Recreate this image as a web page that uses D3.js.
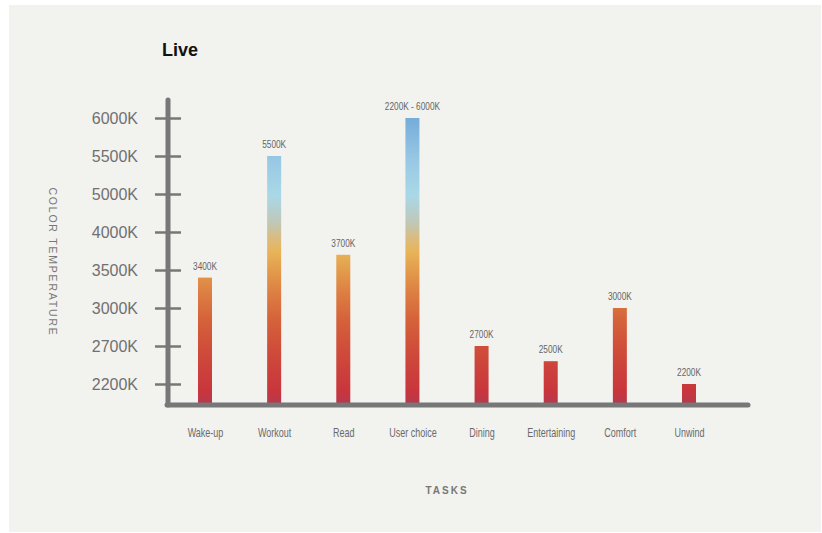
<!DOCTYPE html>
<html><head><meta charset="utf-8">
<script src="https://cdn.jsdelivr.net/npm/d3@7"></script>
<style>
html,body{margin:0;padding:0;background:#fff;}
svg{display:block;}
</style></head>
<body>
<svg id="c" width="822" height="533"></svg>
<script>
const categories = ["Wake-up","Workout","Read","User choice","Dining","Entertaining","Comfort","Unwind"];
const values = [3400,5500,3700,6000,2700,2500,3000,2200];
const valueLabels = ["3400K","5500K","3700K","2200K - 6000K","2700K","2500K","3000K","2200K"];
const tickValues = [2200,2700,3000,3500,4000,5000,5500,6000];
const tickLabels = ["2200K","2700K","3000K","3500K","4000K","5000K","5500K","6000K"];

const svg = d3.select("#c");
svg.append("rect").attr("x",9).attr("y",5).attr("width",812).attr("height",527).attr("fill","#f2f2ef");

const yTop = 118, yStep = 38.0;
const y = d3.scaleLinear()
  .domain(tickValues)
  .range(tickValues.map((d,i)=> yTop + (tickValues.length-1-i)*yStep));
const x = d3.scalePoint().domain(categories).range([205,689]);
const baseY = 403;
const barW = 14;
const gray = "#777777";
const sans = "'Liberation Sans',Arial,sans-serif";

// gradient in user space
const defs = svg.append("defs");
const g0 = y(6000), g1 = baseY;
const grad = defs.append("linearGradient").attr("id","tg").attr("gradientUnits","userSpaceOnUse")
  .attr("x1",0).attr("y1",g1).attr("x2",0).attr("y2",g0);
const stops = [[403,"#b8384c"],[390,"#c9363c"],[350,"#cf4c3a"],[320,"#d5623a"],[295,"#dc7c42"],[270,"#e39c4c"],[252,"#e8b458"],[238,"#d9bc80"],[222,"#bfc8b8"],[195,"#aad8e8"],[160,"#98c8e4"],[117,"#76acda"]];
stops.forEach(([py,c])=>grad.append("stop").attr("offset",(g1-py)/(g1-g0)).attr("stop-color",c));

// bars
svg.append("g").selectAll("rect").data(values).join("rect")
  .attr("x",(d,i)=>x(categories[i])-barW/2)
  .attr("y",d=>y(d))
  .attr("width",barW)
  .attr("height",d=>baseY-y(d))
  .attr("fill","url(#tg)");

// value labels (condensed look)
svg.append("g").selectAll("text").data(values).join("text")
  .attr("transform",(d,i)=>`translate(${x(categories[i])},${y(d)-8}) scale(0.72,1)`)
  .attr("text-anchor","middle")
  .attr("font-family",sans).attr("font-size",11.5).attr("fill","#666")
  .text((d,i)=>valueLabels[i]);

// y axis
const yAxis = d3.axisLeft(y).tickValues(tickValues).tickFormat((d,i)=>tickLabels[i]).tickSize(0).tickPadding(0);
const ya = svg.append("g").attr("transform","translate(168,0)").call(yAxis);
ya.select(".domain").remove();
ya.selectAll(".tick text").attr("x",-30).attr("font-family",sans).attr("font-size",16).attr("fill","#707070");
ya.selectAll(".tick").append("line").attr("x1",-13).attr("x2",13).attr("stroke",gray).attr("stroke-width",2.5);
svg.append("line").attr("x1",168).attr("x2",168).attr("y1",100).attr("y2",405).attr("stroke",gray).attr("stroke-width",5).attr("stroke-linecap","round");

// x axis
const xAxis = d3.axisBottom(x).tickSize(0).tickPadding(0);
const xa = svg.append("g").attr("transform","translate(0,405)").call(xAxis);
xa.select(".domain").remove();
xa.selectAll(".tick text").attr("dy",0).attr("y",0)
  .attr("transform","translate(0,32) scale(0.72,1)")
  .attr("font-family",sans).attr("font-size",12.5).attr("fill","#6a6a6a");
svg.append("line").attr("x1",167).attr("x2",748).attr("y1",405).attr("y2",405).attr("stroke",gray).attr("stroke-width",5).attr("stroke-linecap","round");

// titles
svg.append("text").attr("x",162).attr("y",56).attr("font-family",sans).attr("font-weight","bold").attr("font-size",18).attr("fill","#111").text("Live");
svg.append("text").attr("transform","translate(49,262) rotate(90)").attr("text-anchor","middle")
  .attr("font-family",sans).attr("font-size",10.5).attr("letter-spacing",1.8).attr("fill","#777").text("COLOR TEMPERATURE");
svg.append("text").attr("x",447).attr("y",494).attr("text-anchor","middle")
  .attr("font-family",sans).attr("font-weight","bold").attr("font-size",10).attr("letter-spacing",2).attr("fill","#777").text("TASKS");
</script>
</body></html>
